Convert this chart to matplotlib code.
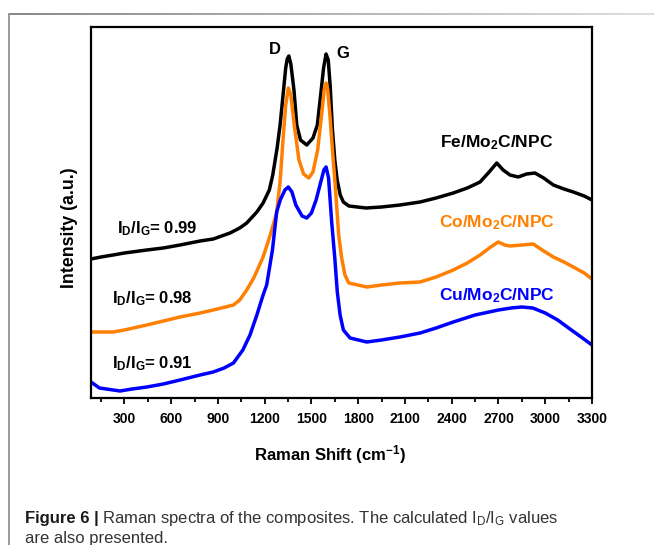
import numpy as np
import matplotlib
matplotlib.use("Agg")
import matplotlib.pyplot as plt
from matplotlib.ticker import MultipleLocator
from matplotlib.collections import LineCollection
from matplotlib.lines import Line2D

# ---------------- data (Raman shift in cm-1, intensity in a.u.) ----------------
fe_x = [86, 150, 228, 300, 444, 550, 657, 786, 870, 978, 1040, 1085, 1150, 1190, 1230, 1252,
        1280, 1299, 1320, 1335, 1345, 1355, 1368, 1388, 1406, 1430, 1470, 1510, 1538, 1560,
        1578, 1594, 1608, 1620, 1635, 1650, 1665, 1685, 1705, 1740, 1850, 1950, 2068, 2197,
        2300, 2410, 2500, 2582, 2640, 2689, 2730, 2774, 2827, 2880, 2934, 2990, 3052, 3120,
        3180, 3250, 3300]
fe_y = [139, 141, 143, 145, 148, 150, 153, 157, 159, 165, 170, 175, 186, 195, 208, 223,
        250, 273, 306, 330, 339, 342, 334, 308, 273, 258, 253, 260, 273, 304,
        330, 344, 338, 313, 268, 238, 218, 203, 196, 192, 190, 191, 193, 196,
        200, 205, 210, 216, 226, 235, 228, 223, 221, 224, 225, 220, 213, 209,
        206, 202, 198]

co_x = [86, 228, 300, 444, 550, 657, 786, 870, 1000, 1040, 1085, 1130, 1190, 1230, 1277,
        1300, 1320, 1335, 1352, 1368, 1390, 1420, 1450, 1483, 1510, 1540, 1565, 1582, 1594,
        1605, 1620, 1640, 1655, 1675, 1694, 1715, 1740, 1855, 1950, 2068, 2197, 2300, 2410,
        2500, 2582, 2650, 2699, 2740, 2774, 2850, 2923, 2980, 3052, 3120, 3180, 3250, 3300]
co_y = [66, 66, 68, 73, 77, 81, 85, 88, 93, 98, 108, 120, 141, 160, 185,
        218, 263, 293, 310, 303, 273, 238, 224, 220, 226, 248, 283, 308, 315,
        308, 280, 238, 208, 163, 140, 123, 115, 111, 113, 115, 116, 121, 128,
        135, 143, 151, 156, 153, 152, 153, 154, 148, 141, 136, 131, 125, 119]

cu_x = [86, 140, 272, 350, 444, 550, 657, 786, 870, 940, 1000, 1060, 1106, 1150, 1190,
        1213, 1250, 1277, 1300, 1330, 1352, 1375, 1400, 1440, 1470, 1500, 1530, 1560, 1580,
        1594, 1610, 1630, 1650, 1666, 1684, 1705, 1748, 1855, 1950, 2068, 2197, 2300,
        2410, 2550, 2700, 2780, 2850, 2920, 3000, 3080, 3150, 3230, 3300]
cu_y = [16, 10, 7, 9, 11, 14, 18, 23, 26, 30, 35, 48, 63, 83, 103,
        113, 148, 186, 198, 208, 211, 206, 193, 182, 180, 185, 198, 216, 228,
        231, 220, 176, 140, 106, 83, 68, 60, 56, 58, 61, 65, 70,
        76, 83, 88, 90, 91, 90, 85, 78, 70, 61, 53]

x_ticks = [300, 600, 900, 1200, 1500, 1800, 2100, 2400, 2700, 3000, 3300]
series_names = ["Fe/Mo$_2$C/NPC", "Co/Mo$_2$C/NPC", "Cu/Mo$_2$C/NPC"]
ratio_labels = ["I$_D$/I$_G$= 0.99", "I$_D$/I$_G$= 0.98", "I$_D$/I$_G$= 0.91"]
peak_labels = ["D", "G"]

# ---------------- style ----------------
plt.rcParams['font.family'] = ['Liberation Sans', 'DejaVu Sans']
plt.rcParams['mathtext.fontset'] = 'custom'
plt.rcParams['mathtext.rm'] = 'Liberation Sans:bold'
plt.rcParams['mathtext.sf'] = 'Liberation Sans'
plt.rcParams['mathtext.default'] = 'rm'

W, H = 654, 545
fig = plt.figure(figsize=(W / 100, H / 100), dpi=100)

def fx(px):
    return px / W

def fy(py):
    return 1 - py / H

# page frame (gray lines)
n = 60
xs = np.linspace(9, W, n + 1)
segs = [[(fx(xs[i]), fy(13.5)), (fx(xs[i + 1]), fy(13.5))] for i in range(n)]
cols = [plt.cm.gray(0.45 + 0.4 * i / n) for i in range(n)]
fig.add_artist(LineCollection(segs, colors=cols, linewidths=1.2, transform=fig.transFigure))
fig.add_artist(Line2D([fx(9), fx(9)], [fy(13.5), 0], color='#8a8a8a', lw=1.2,
                      transform=fig.transFigure))

ax = fig.add_axes([fx(91), fy(398), (592 - 91) / W, (398 - 27) / H])

colors = ['#000000', '#FF8000', '#0000FF']
for xv, yv, c in zip([fe_x, co_x, cu_x], [fe_y, co_y, cu_y], colors):
    ax.plot(xv, yv, color=c, lw=2.5, solid_joinstyle='round', solid_capstyle='round')

ax.set_xlim(86, 3300)
ax.set_ylim(0, 371)
ax.set_yticks([])
ax.set_xticks(x_ticks)
ax.set_xticklabels([str(t) for t in x_ticks], fontsize=10, fontweight='bold')
ax.xaxis.set_minor_locator(MultipleLocator(150))
ax.tick_params(axis='x', which='major', direction='out', length=4, width=1.3, pad=6)
ax.tick_params(axis='x', which='minor', direction='out', length=3, width=1.3)
for s in ax.spines.values():
    s.set_linewidth(1.6)

# peak labels
ax.text(1267, 349, peak_labels[0], fontsize=12, fontweight='bold', ha='center', va='center')
ax.text(1703, 345, peak_labels[1], fontsize=12, fontweight='bold', ha='center', va='center')

# series labels
for (yb, name, c) in zip([251, 171, 98], series_names, colors):
    ax.text(2690, yb, name, fontsize=12.5, fontweight='bold', color=c, ha='center', va='baseline')

# ratio labels
for (xl, yb, lab) in zip([253, 221, 221], [165, 95, 30], ratio_labels):
    ax.text(xl, yb, lab, fontsize=12, fontweight='bold', color='black', ha='left', va='baseline')

# axis labels
fig.text(fx(330), fy(455), "Raman Shift (cm$^{-1}$)", fontsize=12, fontweight='bold',
         ha='center', va='center')
fig.text(fx(70), fy(228), "Intensity (a.u.)", fontsize=12.8, fontweight='bold',
         rotation=90, ha='center', va='center')

# caption
cap_fam = ['Liberation Sans']
t1 = fig.text(fx(25), fy(518), "Figure 6 |", fontsize=12, fontweight='bold', family=cap_fam,
              color='#1a1a1a', ha='left', va='center')
r = fig.canvas.get_renderer()
bb = t1.get_window_extent(renderer=r)
fig.text((bb.x1 + 3) / W, fy(518),
         r"Raman spectra of the composites. The calculated I$_{\mathsf{D}}$/I$_{\mathsf{G}}$ values",
         fontsize=12, family=cap_fam, color='#333333', ha='left', va='center')
fig.text(fx(25), fy(539), "are also presented.", fontsize=12, family=cap_fam,
         color='#333333', ha='left', va='center')

fig.savefig("out.png", dpi=100)
